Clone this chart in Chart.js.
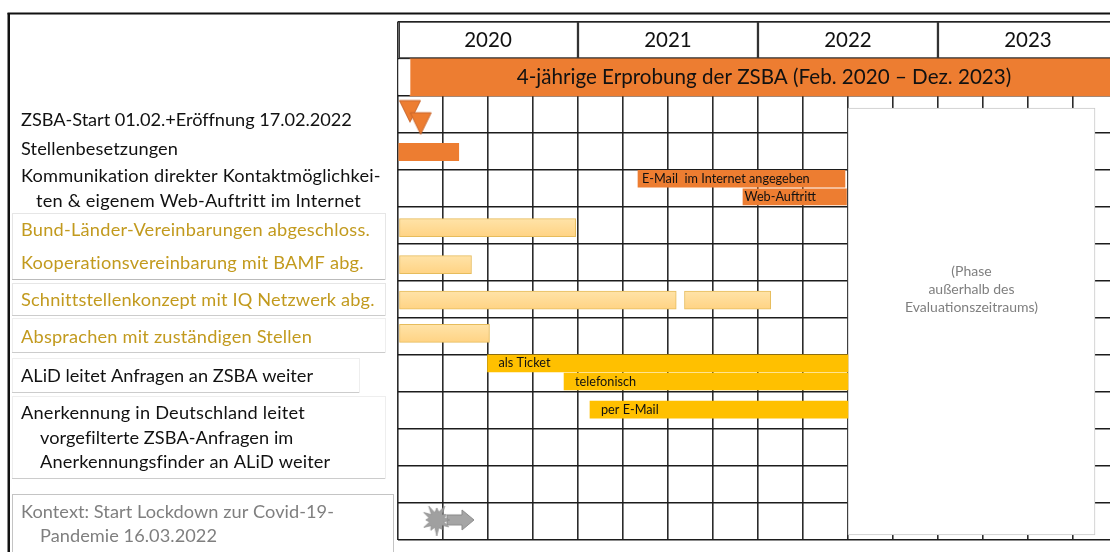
<!DOCTYPE html>
<html><head><meta charset="utf-8">
<style>html,body{margin:0;padding:0;background:#fff;overflow:hidden}#w{position:relative;width:1110px;height:552px}</style>
<script src="https://cdn.jsdelivr.net/npm/chart.js@4/dist/chart.umd.min.js"></script>
</head><body><div id="w"><canvas id="c" width="1110" height="552"></canvas></div>
<script>
// Time axis is in months since Jan 2020; the row axis counts rows from the top.
const years = ['2020', '2021', '2022', '2023'];
const yearSpans = [[0, 12], [12, 24], [24, 36], [36, 48]];
const bannerTitle = '4-jährige Erprobung der ZSBA (Feb. 2020 – Dez. 2023)';
const bannerSpan = [0.8, 48];
const staffSpan = [0, 4.05];
const emailWebSpan = [16, 29.8];
const webSpan = [23, 29.9];
const agreementSpans = [[0.1, 11.85], [0.1, 4.9], [0.1, 18.55], [19.1, 24.85], [0.1, 6.1]];
const agreementRows = [5.57, 6.57, 7.53, 7.53, 8.43];
const forwardSpans = [[5.97, 30], [11.07, 30], [12.8, 30]];
const forwardRows = [9.24, 9.73, 10.49];
const forwardNames = ['als Ticket', 'telefonisch', 'per E-Mail'];
const milestoneMonths = [0.8, 1.51];
const milestoneRows = [2.42, 2.75];
const lockdownMonth = [2.58];
const lockdownArrowMonth = [4.2];
const lockdownRow = [13.47];
const phaseSpan = [30, 46.47];
const phaseLines = ['(Phase', 'außerhalb des', 'Evaluationszeitraums)'];

const F = 'Lato, Carlito, sans-serif';
const ORANGE = '#ED7D31', GOLD = '#FFC000', GOLDTEXT = '#C29A1E', GREY = '#7F7F7F', INK = '#111';
const LEFT = [
  ['ZSBA-Start 01.02.+Eröffnung 17.02.2022', 21, 120, INK, 330],
  ['Stellenbesetzungen', 21, 149, INK, 157],
  ['Kommunikation direkter Kontaktmöglichkei-', 21, 176, INK, 360],
  ['ten & eigenem Web-Auftritt im Internet', 36, 201, INK, 324],
  ['Bund-Länder-Vereinbarungen abgeschloss.', 21, 230, GOLDTEXT, 349],
  ['Kooperationsvereinbarung mit BAMF abg.', 21, 263, GOLDTEXT, 343],
  ['Schnittstellenkonzept mit IQ Netzwerk abg.', 21, 300, GOLDTEXT, 353],
  ['Absprachen mit zuständigen Stellen', 21, 337, GOLDTEXT, 291],
  ['ALiD leitet Anfragen an ZSBA weiter', 21, 376, INK, 292],
  ['Anerkennung in Deutschland leitet', 21, 413, INK, 284],
  ['vorgefilterte ZSBA-Anfragen im', 40, 438, INK, 253],
  ['Anerkennungsfinder an ALiD weiter', 40, 462, INK, 290],
  ['Kontext: Start Lockdown zur Covid-19-', 21, 512, GREY, 313],
  ['Pandemie 16.03.2022', 40, 536, GREY, 177]
];
const BOXES = [[12, 213, 385, 279, '#e6e6e6', '#bbb'], [12, 283, 385, 315, '#e6e6e6', '#ccc'], [12, 318, 385, 352, '#eee', '#ccc'],
  [12, 358, 359, 392, '#eee', '#ccc'], [12, 396, 385, 478, '#eee', '#ccc'], [12, 494, 393, 560, '#c4c4c4', '#c4c4c4']];

function sprite(w, h, draw) {
  const s = document.createElement('canvas'); s.width = w; s.height = h;
  draw(s.getContext('2d')); return s;
}
const triangle = sprite(24, 25, g => {
  g.beginPath(); g.moveTo(1.5, 2); g.lineTo(22.5, 2); g.lineTo(12, 23.5); g.closePath();
  g.fillStyle = ORANGE; g.fill(); g.strokeStyle = '#C9652A'; g.lineWidth = 1; g.stroke();
});
const star = sprite(32, 32, g => {
  const r = [13, 7.5, 14, 7.5, 11, 8, 16, 7.5, 12, 8, 15, 7.5, 11, 8, 15, 7.5, 16, 7.5, 12, 8, 16, 7.5, 11, 8];
  g.beginPath();
  r.forEach((v, i) => { const a = i / r.length * Math.PI * 2; g.lineTo(16 + Math.cos(a) * v, 16 + Math.sin(a) * v); });
  g.closePath(); g.fillStyle = '#A0A0A0'; g.fill(); g.strokeStyle = '#8a8a8a'; g.lineWidth = .7; g.stroke();
});
const arrow = sprite(30, 24, g => {
  g.beginPath(); g.moveTo(1, 7); g.lineTo(16, 7); g.lineTo(16, 2); g.lineTo(28, 12); g.lineTo(16, 22); g.lineTo(16, 17); g.lineTo(1, 17); g.closePath();
  g.fillStyle = '#A5A5A5'; g.fill(); g.strokeStyle = '#8a8a8a'; g.lineWidth = 1; g.stroke();
});

function lightGold(c) {
  const sc = c.chart.scales && c.chart.scales.y;
  const py = sc && c.dataIndex !== undefined ? sc.getPixelForValue(agreementRows[c.dataIndex]) : NaN;
  if (!Number.isFinite(py)) return '#FFDA93';
  const g = c.chart.ctx.createLinearGradient(0, py - 9, 0, py + 9);
  g.addColorStop(0, '#FFE3A8'); g.addColorStop(1, '#FFD384');
  return g;
}
const bar = (data, extra) => Object.assign({ type: 'bar', data, grouped: false, borderSkipped: false, borderWidth: 0 }, extra);
const pts = (xs, ys, style, order) => ({ type: 'scatter', data: xs.map((x, i) => ({ x, y: ys[i] })), pointStyle: style, order, clip: false });

const paint = {
  id: 'paint',
  afterDatasetsDraw(chart) {
    const { ctx, scales: { x, y } } = chart;
    ctx.save();
    ctx.textBaseline = 'middle';
    // frame
    ctx.fillStyle = '#111';
    ctx.fillRect(7.5, 12.5, 1103, 2);
    ctx.fillRect(7.5, 13, 2.5, 539);
    // left panel
    ctx.lineWidth = 1;
    BOXES.forEach(b => {
      ctx.strokeStyle = b[4];
      ctx.strokeRect(b[0] + .5, b[1] + .5, b[2] - b[0], b[3] - b[1]);
      ctx.strokeStyle = b[5];
      ctx.beginPath(); ctx.moveTo(b[0], b[3] + .5); ctx.lineTo(b[2], b[3] + .5); ctx.stroke();
    });
    ctx.textAlign = 'left';
    ctx.font = '18.2px ' + F;
    LEFT.forEach(t => {
      ctx.letterSpacing = '0px';
      const w = ctx.measureText(t[0]).width;
      ctx.letterSpacing = ((t[4] - w) / t[0].length).toFixed(3) + 'px';
      ctx.fillStyle = t[3];
      ctx.fillText(t[0], t[1], t[2]);
    });
    ctx.letterSpacing = '0px';
    // header
    ctx.textAlign = 'center'; ctx.fillStyle = '#111';
    ctx.font = '20.5px ' + F;
    years.forEach((t, i) => ctx.fillText(t, x.getPixelForValue((yearSpans[i][0] + yearSpans[i][1]) / 2), y.getPixelForValue(.5)));
    ctx.font = '20.6px ' + F;
    ctx.fillText(bannerTitle, x.getPixelForValue((bannerSpan[0] + bannerSpan[1]) / 2), y.getPixelForValue(1.5));
    // bar captions
    ctx.textAlign = 'left'; ctx.font = '12.7px ' + F;
    ctx.fillText('E-Mail  im Internet angegeben', x.getPixelForValue(emailWebSpan[0]) + 4, y.getPixelForValue(4.25));
    ctx.fillText('Web-Auftritt', x.getPixelForValue(webSpan[0]) + 1.5, y.getPixelForValue(4.74));
    forwardNames.forEach((t, i) => ctx.fillText(t, x.getPixelForValue(forwardSpans[i][0]) + 11, y.getPixelForValue(forwardRows[i])));
    // phase note
    ctx.textAlign = 'center'; ctx.fillStyle = GREY; ctx.font = '14px ' + F;
    phaseLines.forEach((t, i) => ctx.fillText(t, x.getPixelForValue((phaseSpan[0] + phaseSpan[1]) / 2), 271 + 18 * i));
    ctx.restore();
  }
};

new Chart(document.getElementById('c'), {
  type: 'bar',
  data: {
    datasets: [
      bar(yearSpans.map(s => ({ x: s, y: .5 })), { backgroundColor: '#fff', borderColor: '#333', borderWidth: 1.5, barThickness: 37, order: 9 }),
      bar([{ x: [.05, bannerSpan[0]], y: 1.5 }], { backgroundColor: '#fff', barThickness: 35, order: 8 }),
      bar([{ x: bannerSpan, y: 1.51 }], { backgroundColor: ORANGE, barThickness: 37, order: 8 }),
      bar([{ x: phaseSpan, y: 8.108 }], { backgroundColor: '#fff', borderColor: '#c8c8c8', borderWidth: 1, barThickness: 427, order: 7 }),
      bar([{ x: staffSpan, y: 3.527 }], { backgroundColor: ORANGE, barThickness: 17.5, order: 5 }),
      bar([{ x: emailWebSpan, y: 4.25 }], { backgroundColor: ORANGE, barThickness: 17, order: 5 }),
      bar([{ x: webSpan, y: 4.74 }], { backgroundColor: ORANGE, barThickness: 16, order: 5 }),
      bar(agreementSpans.map((s, i) => ({ x: s, y: agreementRows[i] })), { backgroundColor: lightGold, borderColor: '#E6BC5C', borderWidth: 1, barThickness: 18, order: 5 }),
      bar(forwardSpans.map((s, i) => ({ x: s, y: forwardRows[i] })), { backgroundColor: GOLD, barThickness: 17, order: 5 }),
      pts(milestoneMonths, milestoneRows, triangle, 4),
      pts(lockdownArrowMonth, lockdownRow, arrow, 4),
      pts(lockdownMonth, lockdownRow, star, 3)
    ]
  },
  options: {
    indexAxis: 'y', responsive: false, animation: false,
    layout: { autoPadding: false, padding: { left: 398, top: 21.5, bottom: 12.5, right: 0 } },
    plugins: { legend: { display: false }, tooltip: { enabled: false } },
    scales: {
      x: { type: 'linear', offset: false, min: 0, max: 47.47, ticks: { display: false, stepSize: 3, includeBounds: false },
        grid: { offset: false, color: '#2b2b2b', lineWidth: 1.6, drawTicks: false }, border: { display: false } },
      y: { type: 'linear', offset: false, reverse: true, min: 0, max: 14, ticks: { display: false, stepSize: 1 },
        grid: { offset: false, color: '#1c1c1c', lineWidth: 1.6, drawTicks: false }, border: { display: false } }
    }
  },
  plugins: [paint]
});
</script></body></html>
